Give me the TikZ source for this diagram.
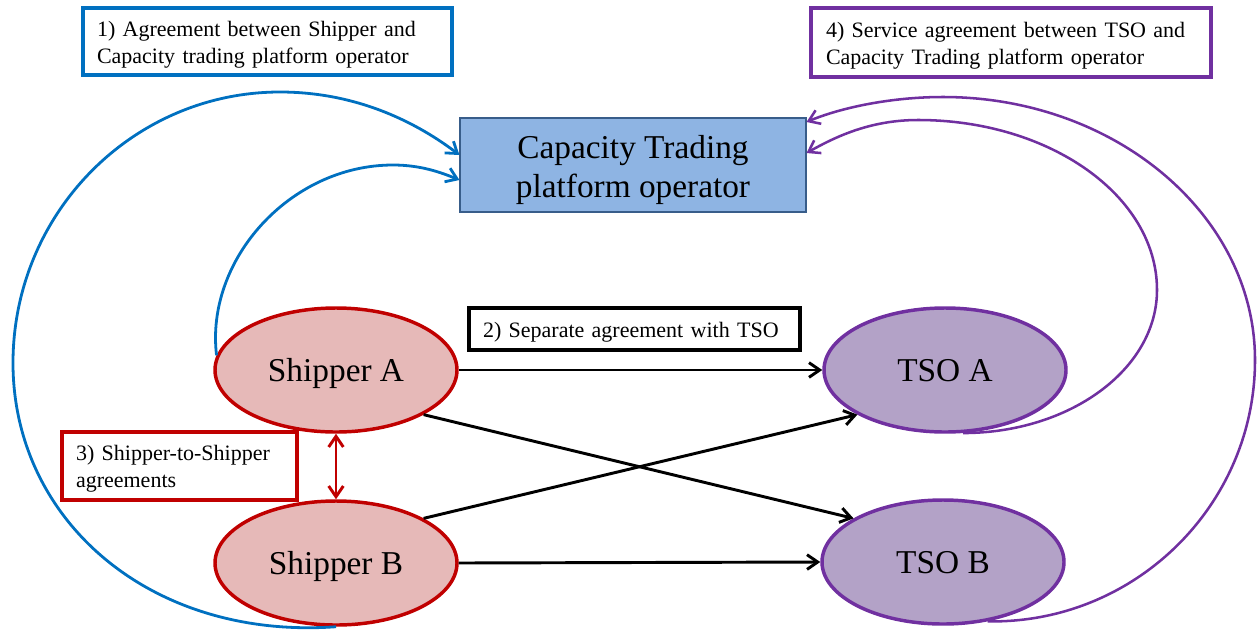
\documentclass[tikz,border=0pt]{standalone}
\usepackage{fontspec}
\setmainfont{Liberation Serif}
\usetikzlibrary{arrows.meta,shapes.geometric,calc}
\definecolor{cblue}{HTML}{0070C0}
\definecolor{cpurple}{HTML}{7030A0}
\definecolor{cred}{HTML}{C00000}
\definecolor{boxfill}{HTML}{8EB4E3}
\definecolor{boxdraw}{HTML}{385D8A}
\definecolor{shipfill}{HTML}{E6B9B8}
\definecolor{tsofill}{HTML}{B3A2C7}
\newcommand{\topstrut}[1]{\rule{0pt}{#1}}
\begin{document}
\begin{tikzpicture}[x=0.75pt,y=-0.75pt,
  labelbox/.style={draw=#1, line width=2.3pt, fill=white, text=black, inner ysep=0pt,
    align=left, font=\fontsize{16.5}{20.25}\selectfont},
  party/.style={ellipse, minimum width=181.5pt, minimum height=93pt, inner sep=0pt,
    line width=2.6pt, text depth=0pt, font=\fontsize{25}{30}\selectfont},
  conn/.style={line width=2.2pt, -{Straight Barb[length=8pt,width=11pt]}},
  rconn/.style={line width=2.2pt, draw=cred, {Straight Barb[length=8pt,width=11pt]}-{Straight Barb[length=8pt,width=11pt]}},
  bconn/.style={conn, draw=cblue, line width=2.1pt},
  pconn/.style={conn, draw=cpurple, line width=1.9pt},
]
\useasboundingbox (0,0) rectangle (1257,633);

% label boxes
\node[labelbox=cblue, minimum width=276.75pt, minimum height=50.25pt,
  inner xsep=10.5pt, text width=255.75pt] (l1) at (267.5,41.5)
  {\topstrut{16pt}1) Agreement between Shipper and\\Capacity trading platform operator};
\node[labelbox=cpurple, minimum width=300pt, minimum height=51.75pt,
  inner xsep=11.25pt, text width=277.5pt] (l4) at (1011,42.5)
  {\topstrut{16pt}4) Service agreement between TSO and\\Capacity Trading platform operator};
\node[labelbox=black, minimum width=248.25pt, minimum height=31.5pt,
  inner xsep=10.5pt, text width=227.25pt] (l2) at (634.5,329)
  {\topstrut{16pt}2) Separate agreement with TSO};
\node[labelbox=cred, minimum width=176.25pt, minimum height=51pt,
  inner xsep=10.5pt, text width=155.25pt] (l3) at (179.5,466)
  {\topstrut{16pt}3) Shipper-to-Shipper\\agreements};

% platform operator
\node[draw=boxdraw, fill=boxfill, line width=0.8pt, minimum width=259.5pt,
  minimum height=70.5pt, align=center, inner sep=0pt,
  font=\fontsize{25}{29}\selectfont] (cp) at (633,165)
  {\topstrut{24.5pt}Capacity Trading\\platform operator};

% parties
\node[party, draw=cred, fill=shipfill] (sa) at (336,370) {Shipper A};
\node[party, draw=cred, fill=shipfill] (sb) at (336,563) {Shipper B};
\node[party, draw=cpurple, fill=tsofill] (ta) at (945,370) {TSO A};
\node[party, draw=cpurple, fill=tsofill] (tb) at (943,562) {TSO B};

% black connectors
\draw[conn] (sa.east) -- (ta.west);
\draw[conn] (sb.east) -- (tb.west);
\draw[conn] (sa.-27) -- (tb.154);
\draw[conn] (sb.27) -- (ta.207);

% red double arrow
\draw[rconn] (sa.south) -- (sb.north);

% blue curves
\coordinate (bt1) at ($(cp.west)+(0,-10)$);
\coordinate (bt2) at ($(cp.west)+(0,15)$);
\draw[bconn] (sb.south) .. controls (150,640) and (13,520) .. (13,363)
  .. controls (13,213) and (133,92) .. (280,92)
  .. controls (360,92) and (420,125) .. (bt1);
\draw[bconn] (sa.173) .. controls (205,260) and (290,165) .. (393,165)
  .. controls (420,165) and (440,172) .. (bt2);

% purple curves
\coordinate (pt1) at ($(cp.east)+(0,-43)$);
\coordinate (pt2) at ($(cp.east)+(0,-12)$);
\draw[pconn] (ta.-74) .. controls (1070,433) and (1157,369) .. (1157,290)
  .. controls (1157,196) and (1050,120) .. (918,120)
  .. controls (870,120) and (835,137) .. (pt2);
\draw[pconn] (tb.-53) .. controls (1134,624) and (1255,506) .. (1255,360)
  .. controls (1255,215) and (1115,97) .. (943,97)
  .. controls (890,97) and (840,108) .. (pt1);
\end{tikzpicture}
\end{document}
